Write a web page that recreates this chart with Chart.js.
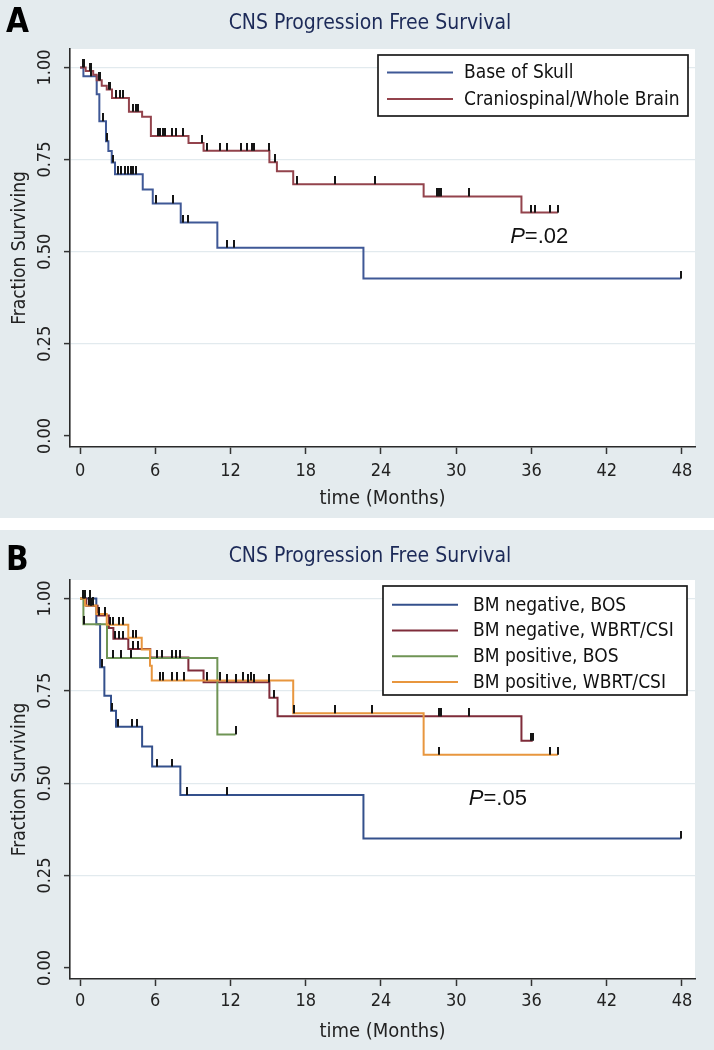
<!DOCTYPE html>
<html>
<head>
<meta charset="utf-8">
<script src="https://cdn.jsdelivr.net/npm/chart.js@4.4.1/dist/chart.umd.min.js"></script>
<style>
  html, body { margin: 0; padding: 0; background: #fff; }
  #wrap { position: relative; width: 714px; height: 1050px; }
  canvas { position: absolute; left: 0; }
  #chart-a { top: 0; }
  #chart-b { top: 530px; }
</style>
</head>
<body>
<div id="wrap">
  <canvas id="chart-a" width="714" height="518"></canvas>
  <canvas id="chart-b" width="714" height="520"></canvas>
</div>
<script>
// ---- axes ----
const X_TICKS = [0, 6, 12, 18, 24, 30, 36, 42, 48];
const Y_TICKS = [0, 0.25, 0.5, 0.75, 1];
const Y_TICK_LABELS = ["0.00", "0.25", "0.50", "0.75", "1.00"];

// ---- panel A: step curves (event time, survival after event) + censor times ----
const A_BOS_TIME = [0, 0.27, 1.33, 1.54, 2.07, 2.26, 2.53, 2.79, 5.0, 5.8, 8.03, 10.95, 22.6, 47.9];
const A_BOS_SURV = [1, 0.976, 0.927, 0.854, 0.800, 0.773, 0.742, 0.710, 0.669, 0.631, 0.579, 0.511, 0.427, 0.427];
const A_BOS_CENS = [0.2, 0.85, 1.8, 2.12, 2.18, 2.6, 3.05, 3.3, 3.6, 3.8, 4.1, 4.25, 4.5, 6.06, 7.4, 8.2, 8.6, 11.7, 12.3, 47.9];

const A_WB_TIME = [0, 0.45, 1.05, 1.33, 1.73, 2.13, 2.55, 3.9, 4.95, 5.65, 8.65, 9.85, 15.1, 15.7, 17.0, 27.4, 35.2, 38.1];
const A_WB_SURV = [1, 0.990, 0.980, 0.965, 0.950, 0.940, 0.917, 0.880, 0.866, 0.814, 0.795, 0.774, 0.743, 0.718, 0.683, 0.650, 0.606, 0.606];
const A_WB_CENS = [0.3, 0.8, 0.9, 1.5, 1.6, 2.3, 2.4, 2.9, 3.2, 3.45, 4.25, 4.47, 4.65, 6.2, 6.4, 6.6, 6.8, 7.3, 7.65, 8.24,
  9.75, 10.1, 11.2, 11.7, 12.8, 13.3, 13.7, 13.9, 15.05, 15.55, 17.3, 20.3, 23.5, 28.5, 28.65, 28.8, 31.0, 36.0, 36.3, 37.5, 38.1];

// ---- panel B ----
const B_NEG_BOS_TIME = [0, 1.3, 1.6, 1.94, 2.47, 2.87, 4.95, 5.75, 8.0, 22.6, 47.9];
const B_NEG_BOS_SURV = [1, 0.930, 0.814, 0.737, 0.696, 0.653, 0.599, 0.545, 0.468, 0.350, 0.350];
const B_NEG_BOS_CENS = [0.4, 0.8, 1.73, 2.55, 3.05, 4.12, 4.52, 6.1, 7.3, 8.56, 11.7, 47.9];

const B_NEG_WB_TIME = [0, 0.5, 1.4, 2.3, 2.66, 3.85, 5.6, 8.64, 9.85, 15.1, 15.75, 35.2, 36.1];
const B_NEG_WB_SURV = [1, 0.980, 0.954, 0.920, 0.891, 0.863, 0.840, 0.805, 0.773, 0.731, 0.681, 0.615, 0.615];
const B_NEG_WB_CENS = [0.3, 0.9, 1.5, 2.0, 2.8, 3.1, 3.4, 4.2, 4.6, 6.5, 11.7, 12.4, 13.4, 13.9, 15.05, 15.5, 28.65, 28.8, 31.0, 36.0, 36.1];

const B_POS_BOS_TIME = [0, 0.27, 2.15, 10.95, 12.4];
const B_POS_BOS_SURV = [1, 0.930, 0.839, 0.632, 0.632];
const B_POS_BOS_CENS = [0.35, 2.66, 3.3, 4.1, 6.15, 7.3, 7.65, 8.0, 12.4];

const B_POS_WB_TIME = [0, 0.4, 1.3, 2.13, 3.85, 4.92, 5.58, 5.72, 17.0, 27.4, 38.1];
const B_POS_WB_SURV = [1, 0.981, 0.958, 0.929, 0.894, 0.862, 0.818, 0.778, 0.689, 0.577, 0.577];
const B_POS_WB_CENS = [0.2, 0.7, 1.0, 2.4, 2.6, 3.1, 3.4, 4.2, 4.5, 6.4, 6.6, 7.3, 7.7, 8.3, 10.1, 11.2, 13.0, 13.6,
  17.1, 20.3, 23.3, 28.65, 37.5, 38.1];

const FONT = '"DejaVu Sans Condensed", "DejaVu Sans", sans-serif';
const P_FONT = '"Liberation Sans", Arial, sans-serif';

// censor mark: short black tick standing on the curve
function makeTick() {
  const c = document.createElement("canvas");
  c.width = 2;
  c.height = 16;
  const g = c.getContext("2d");
  g.fillStyle = "#151515";
  g.fillRect(0, 0, 2, 8);
  return c;
}
const TICK = makeTick();

function survAt(times, surv, t) {
  let v = surv[0];
  for (let i = 0; i < times.length; i++) if (times[i] <= t) v = surv[i];
  return v;
}

function groupDatasets(g, order) {
  return [
    {
      label: g.label,
      data: g.times.map((t, i) => ({ x: t, y: g.surv[i] })),
      borderColor: g.color,
      backgroundColor: g.color,
      borderWidth: 2,
      stepped: "before",
      pointRadius: 0,
      fill: false,
      order,
    },
    {
      isCensor: true,
      data: g.cens.map(t => ({ x: t, y: survAt(g.times, g.surv, t) })),
      showLine: false,
      pointStyle: TICK,
      pointRadius: 3,
      order: 0,
    },
  ];
}

const panelBg = {
  id: "panelBg",
  beforeDraw(chart) {
    const { ctx, chartArea: a } = chart;
    ctx.save();
    ctx.fillStyle = "#e4ebee";
    ctx.fillRect(0, 0, chart.width, chart.height);
    ctx.fillStyle = "#fff";
    ctx.fillRect(a.left, a.top, a.right - a.left, a.bottom - a.top);
    ctx.restore();
  },
};

const kmLegend = {
  id: "kmLegend",
  afterDraw(chart, args, o) {
    const { ctx, chartArea: a } = chart;
    const items = chart.data.datasets.filter(d => !d.isCensor);
    const h = o.padTop + o.padBottom + o.rowH * items.length;
    const x0 = a.right - o.right - o.width;
    const y0 = a.top + o.top;
    ctx.save();
    ctx.fillStyle = "#fff";
    ctx.fillRect(x0, y0, o.width, h);
    ctx.strokeStyle = "#1a1a1a";
    ctx.lineWidth = 1.7;
    ctx.strokeRect(x0, y0, o.width, h);
    ctx.font = `${o.size}px ${FONT}`;
    ctx.textBaseline = "middle";
    ctx.textAlign = "left";
    items.forEach((d, i) => {
      const y = y0 + o.padTop + o.rowH * (i + 0.5);
      ctx.strokeStyle = d.borderColor;
      ctx.lineWidth = 2;
      ctx.beginPath();
      ctx.moveTo(x0 + o.lineX0, y);
      ctx.lineTo(x0 + o.lineX1, y);
      ctx.stroke();
      ctx.fillStyle = "#111";
      ctx.fillText(d.label, x0 + o.textX, y + 1);
    });
    ctx.restore();
  },
};

const panelText = {
  id: "panelText",
  afterDraw(chart, args, o) {
    const { ctx, scales: { x, y } } = chart;
    ctx.save();
    // panel letter
    ctx.fillStyle = "#000";
    ctx.font = `bold 33px ${FONT}`;
    ctx.textAlign = "left";
    ctx.textBaseline = "alphabetic";
    ctx.fillText(o.letter, 6, o.letterY);
    // title
    ctx.fillStyle = "#1c2a58";
    ctx.font = `21px ${FONT}`;
    ctx.textAlign = "center";
    ctx.textBaseline = "middle";
    ctx.fillText(o.title, 370, o.titleY);
    // rotated y tick labels
    ctx.fillStyle = "#222";
    ctx.font = `18px ${FONT}`;
    Y_TICKS.forEach((v, i) => {
      ctx.save();
      ctx.translate(45, y.getPixelForValue(v));
      ctx.rotate(-Math.PI / 2);
      ctx.fillText(Y_TICK_LABELS[i], 0, 0);
      ctx.restore();
    });
    // P value
    const px = x.getPixelForValue(o.pAt[0]);
    const py = y.getPixelForValue(o.pAt[1]);
    ctx.textAlign = "left";
    ctx.fillStyle = "#111";
    ctx.font = `italic 22px ${P_FONT}`;
    ctx.fillText("P", px, py);
    const w = ctx.measureText("P").width;
    ctx.font = `22px ${P_FONT}`;
    ctx.fillText(o.pText, px + w, py);
    ctx.restore();
  },
};

function makeChart(id, groups, cfg) {
  const datasets = [];
  groups.forEach((g, i) => datasets.push(...groupDatasets(g, groups.length - i)));
  return new Chart(document.getElementById(id), {
    type: "line",
    data: { datasets },
    plugins: [panelBg, kmLegend, panelText],
    options: {
      responsive: false,
      animation: false,
      devicePixelRatio: 1,
      layout: { padding: { top: cfg.top, right: 19, bottom: 0, left: 0 } },
      plugins: {
        legend: { display: false },
        tooltip: { enabled: false },
        kmLegend: cfg.legend,
        panelText: cfg.text,
      },
      scales: {
        x: {
          type: "linear",
          min: -0.8,
          max: 49.04,
          afterBuildTicks: s => { s.ticks = X_TICKS.map(v => ({ value: v })); },
          afterFit: s => { s.height = 71; },
          ticks: {
            color: "#222",
            font: { family: FONT, size: 18 },
            padding: cfg.xTickPad,
            maxRotation: 0,
            autoSkip: false,
          },
          grid: { drawOnChartArea: false, tickLength: 7, tickColor: "#333", tickWidth: 1.5 },
          border: { color: "#2a2a2a", width: 1.6 },
          title: {
            display: true,
            text: "time (Months)",
            color: "#222",
            font: { family: FONT, size: 20 },
            padding: { top: 0, bottom: cfg.xTitlePad },
          },
        },
        y: {
          type: "linear",
          min: -0.03,
          max: 1.05,
          afterBuildTicks: s => { s.ticks = Y_TICKS.map(v => ({ value: v })); },
          afterFit: s => { s.width = 70; },
          ticks: { display: false },
          grid: {
            color: c => (c.tick && c.tick.value === 0 ? "rgba(0,0,0,0)" : "#e2eaee"),
            lineWidth: 1.2,
            tickLength: 6,
            tickColor: "#333",
            tickWidth: 1.5,
          },
          border: { color: "#2a2a2a", width: 1.6 },
          title: {
            display: true,
            text: "Fraction Surviving",
            color: "#222",
            font: { family: FONT, size: 19 },
            padding: { top: 9, bottom: 0 },
          },
        },
      },
    },
  });
}

makeChart("chart-a", [
  { label: "Base of Skull", color: "#3f5896", times: A_BOS_TIME, surv: A_BOS_SURV, cens: A_BOS_CENS },
  { label: "Craniospinal/Whole Brain", color: "#93434c", times: A_WB_TIME, surv: A_WB_SURV, cens: A_WB_CENS },
], {
  top: 49,
  xTickPad: 7,
  xTitlePad: 7,
  legend: { right: 7, top: 6, width: 310, rowH: 26.5, padTop: 4.25, padBottom: 3.75,
    lineX0: 9, lineX1: 75, textX: 86, size: 19 },
  text: { letter: "A", letterY: 32, title: "CNS Progression Free Survival", titleY: 24,
    pText: "=.02", pAt: [34.3, 0.54] },
});

makeChart("chart-b", [
  { label: "BM negative, BOS", color: "#34508c", times: B_NEG_BOS_TIME, surv: B_NEG_BOS_SURV, cens: B_NEG_BOS_CENS },
  { label: "BM negative, WBRT/CSI", color: "#7f2c3a", times: B_NEG_WB_TIME, surv: B_NEG_WB_SURV, cens: B_NEG_WB_CENS },
  { label: "BM positive, BOS", color: "#6f9455", times: B_POS_BOS_TIME, surv: B_POS_BOS_SURV, cens: B_POS_BOS_CENS },
  { label: "BM positive, WBRT/CSI", color: "#e8963e", times: B_POS_WB_TIME, surv: B_POS_WB_SURV, cens: B_POS_WB_CENS },
], {
  top: 50,
  xTickPad: 5,
  xTitlePad: 6,
  legend: { right: 8, top: 6, width: 304, rowH: 25.7, padTop: 6, padBottom: 0.2,
    lineX0: 9, lineX1: 75, textX: 90, size: 19 },
  text: { letter: "B", letterY: 40, title: "CNS Progression Free Survival", titleY: 27,
    pText: "=.05", pAt: [31.0, 0.458] },
});
</script>
</body>
</html>
